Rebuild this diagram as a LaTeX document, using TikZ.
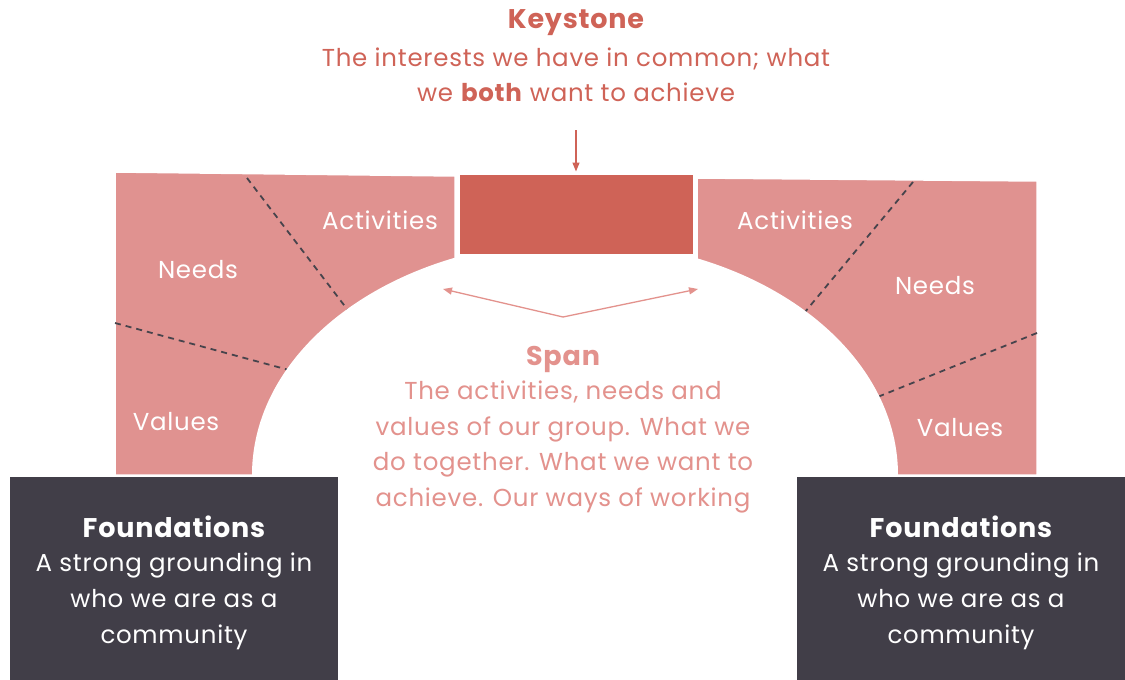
\documentclass[tikz,border=0pt]{standalone}
\usepackage{fontspec}
\setmainfont{Poppins}[LetterSpace=3]
\usetikzlibrary{arrows.meta}
\definecolor{archpink}{HTML}{E09290}
\definecolor{keyred}{HTML}{CF6357}
\definecolor{spanpink}{HTML}{E3928D}
\definecolor{baseslate}{HTML}{413E48}
\definecolor{seam}{HTML}{47444C}
\tikzset{
  voussoir/.style={fill=archpink, draw=white, line width=1.5pt},
  seamline/.style={draw=seam, dash pattern=on 6pt off 5pt, line width=1.8pt},
  blocklabel/.style={text=white, font=\fontsize{24.5}{28}\selectfont},
  basebox/.style={fill=baseslate, minimum width=328pt, minimum height=210pt, inner sep=0pt},
  title/.style={font=\fontsize{27}{30}\selectfont\bfseries},
  body/.style={align=center, font=\fontsize{24.5}{36}\selectfont},
  pointer/.style={line width=1.3pt, -{Triangle[length=9pt,width=7pt]}},
}
\begin{document}
\begin{tikzpicture}[x=1pt,y=-1pt]
\useasboundingbox (0,0) rectangle (1125,680);

% left and right haunches of the arch
\path[voussoir] (115,172) -- (455,176) -- (455,475) -- (115,475) -- cycle;
\path[voussoir] (697,178) -- (1037,181) -- (1037,475) -- (697,475) -- cycle;

% seams between the arch blocks
\draw[seamline] (247,178) -- (360,326);
\draw[seamline] (115,323) -- (300,373);
\draw[seamline] (913,182) -- (790,330);
\draw[seamline] (1037,333) -- (870,400);

% the opening under the arch
\fill[white] (575,475) ellipse [x radius=323, y radius=234];

% keystone block
\node[fill=keyred, draw=white, line width=3pt, minimum width=236pt, minimum height=82pt, inner sep=0pt] (keystone) at (576,214) {};

% foundations
\node[basebox] (footL) at (174,582) {};
\node[basebox] (footR) at (961,582) {};
\node[title, text=white] (footLhead) at (174,527) {Foundations};
\node[body, text=white] (footLtext) at (174,601) {A strong grounding in\\who we are as a\\community};
\node[title, text=white] (footRhead) at (961,527) {Foundations};
\node[body, text=white] (footRtext) at (961,601) {A strong grounding in\\who we are as a\\community};

% block labels
\node[blocklabel] (actL) at (380,220) {Activities};
\node[blocklabel] (needL) at (198,270) {Needs};
\node[blocklabel] (valL) at (176,422) {Values};
\node[blocklabel] (actR) at (795,220) {Activities};
\node[blocklabel] (needR) at (935,286) {Needs};
\node[blocklabel] (valR) at (960,428) {Values};

% keystone caption
\node[title, text=keyred] (keyhead) at (576,23) {Keystone};
\node[body, text=keyred, font=\fontsize{24.5}{35}\selectfont] (keytext) at (576,75) {The interests we have in common; what\\we \textbf{both} want to achieve};
\coordinate (keytop) at (576,130);
\draw[pointer, keyred] (keytop) -- (keystone.north);

% span caption and its arrows
\node[title, text=spanpink] (spanhead) at (563,359) {Span};
\node[body, text=spanpink, font=\fontsize{24.5}{35.5}\selectfont] (spantext) at (563,447) {The activities, needs and\\values of our group. What we\\do together. What we want to\\achieve. Our ways of working};
\coordinate (spanmid) at (563,317);
\coordinate (spanL) at (443,289);
\coordinate (spanR) at (698,289);
\draw[pointer, spanpink] (spanmid) -- (spanL);
\draw[pointer, spanpink] (spanmid) -- (spanR);
\end{tikzpicture}
\end{document}
